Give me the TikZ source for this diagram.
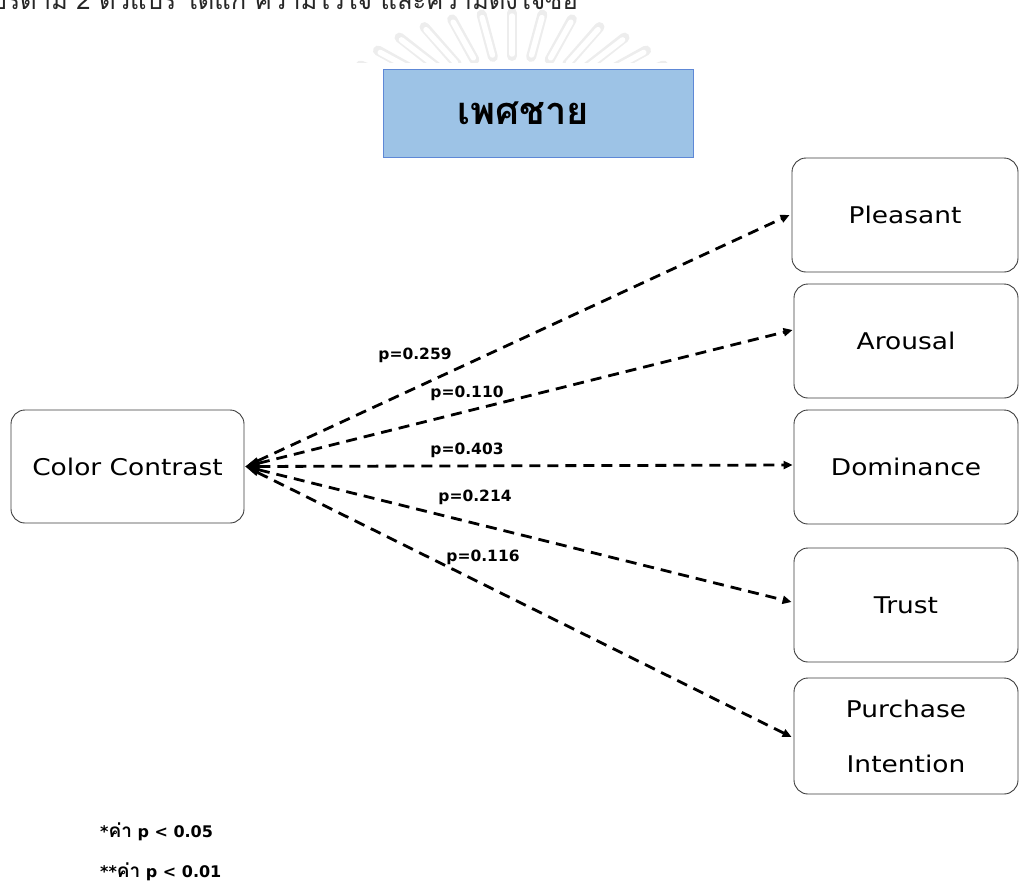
\documentclass[tikz,border=0pt]{standalone}
\usepackage{fontspec}
\usetikzlibrary{arrows.meta}
\setmainfont{DejaVu Sans}
\newfontfamily\boxfont[FakeStretch=1.15]{DejaVu Sans}
\newfontfamily\lblfont{DejaVu Sans}
\newfontfamily\thaifont[Script=Thai]{Loma}
\definecolor{headfill}{HTML}{9DC3E6}
\definecolor{headline}{HTML}{5E88D6}
\definecolor{boxline}{HTML}{3C3C3C}
\tikzset{
  varbox/.style={draw=boxline, line width=0.9pt, rounded corners=14pt,
    font=\boxfont\fontsize{23}{27}\selectfont, align=center, inner sep=0pt},
  plabel/.style={font=\lblfont\bfseries\fontsize{15.5}{17}\selectfont, inner sep=0pt},
  note/.style={anchor=base west, inner sep=0pt, font=\lblfont\bfseries\fontsize{16}{18}\selectfont},
  link/.style={line width=2.8pt, dash pattern=on 11pt off 7pt,
    {Triangle[length=14pt,width=7pt,line width=0.6pt]}-{Triangle[length=9pt,width=8pt]}},
  ray/.style={line width=10pt, line cap=round, black!7}
}
\begin{document}
\begin{tikzpicture}[x=1pt,y=-1pt]
\useasboundingbox (0,0) rectangle (1019,881);

% faint emblem rays behind the heading
\begin{scope}
  \clip (330,0) rectangle (700,62);
  \foreach \a in {20,30,...,160}{
    \draw[ray] ({512+110*cos(\a)},{118-62*sin(\a)}) -- ({512+175*cos(\a)},{118-105*sin(\a)});
    \draw[line width=5.5pt, line cap=round, white] ({512+113*cos(\a)},{118-64*sin(\a)}) -- ({512+172*cos(\a)},{118-102*sin(\a)});
  }
\end{scope}

% running text line cut by the page top
\node[anchor=base east, inner sep=0pt, font=\thaifont\fontsize{25.5}{30}\selectfont, text=black!85]
  (topline) at (578,9.5) {แปรตาม 2 ตัวแปร ได้แก่ ความไว้ใจ และความตั้งใจซื้อ};

% heading
\node[draw=headline, fill=headfill, line width=1pt, minimum width=310pt, minimum height=88pt,
  inner sep=0pt] (head) at (538,113) {};
\node[inner sep=0pt, font=\thaifont\bfseries\fontsize{38}{44}\selectfont] (headtext)
  at ([xshift=-15pt]head.center) {เพศชาย};

% variables
\node[varbox, minimum width=233pt, minimum height=113pt] (cc) at (127.5,466.5) {Color Contrast};
\node[varbox, minimum width=226pt, minimum height=114pt] (pl) at (905,215) {Pleasant};
\node[varbox, minimum width=224pt, minimum height=114pt] (ar) at (906,341) {Arousal};
\node[varbox, minimum width=224pt, minimum height=114pt] (do) at (906,467) {Dominance};
\node[varbox, minimum width=224pt, minimum height=114pt] (tr) at (906,605) {Trust};
\node[varbox, minimum width=224pt, minimum height=116pt] (pi) at (906,736) {Purchase\\[28pt]Intention};

% paths with their p-values
\draw[link] ([xshift=1pt]cc.east) -- ([xshift=-2pt]pl.west);
\draw[link] ([xshift=1pt]cc.east) -- ([xshift=-1pt,yshift=11pt]ar.west);
\draw[link] ([xshift=1pt]cc.east) -- ([xshift=-1pt,yshift=2pt]do.west);
\draw[link] ([xshift=1pt]cc.east) -- ([xshift=-2pt,yshift=3pt]tr.west);
\draw[link] ([xshift=1pt]cc.east) -- ([xshift=-2pt,yshift=-1pt]pi.west);

\node[plabel] (l1) at (415,355) {p=0.259};
\node[plabel] (l2) at (467,393) {p=0.110};
\node[plabel] (l3) at (467,450) {p=0.403};
\node[plabel] (l4) at (475,497) {p=0.214};
\node[plabel] (l5) at (483,557) {p=0.116};

% significance notes
\node[note] (n1) at (100,837) {*{\thaifont\fontsize{19}{20}\selectfont ค่า} p < 0.05};
\node[note] (n2) at (100,877) {**{\thaifont\fontsize{19}{20}\selectfont ค่า} p < 0.01};
\end{tikzpicture}
\end{document}
